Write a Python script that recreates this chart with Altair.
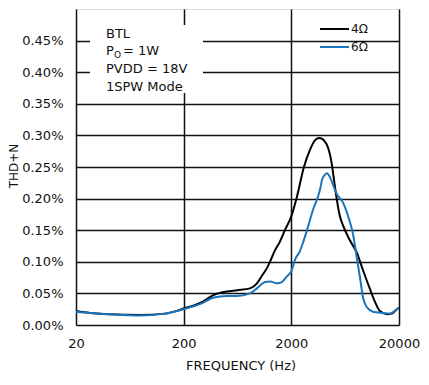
import altair as alt
import pandas as pd

# ---- data ----
series_names = ["4Ω", "6Ω"]
series_colors = ["#000000", "#1b75bc"]

freq_4 = [20, 27, 41, 79, 134, 200, 302, 374, 505, 626, 826, 959, 1066, 1187, 1266,
          1408, 1567, 1744, 2000, 2255, 2618, 2978, 3312, 3600, 3900, 4104, 4330, 4565,
          4770, 4960, 5190, 5652, 6026, 7000, 8130, 9250, 10740, 11940, 13300, 15450,
          17180, 19140, 20000]
thd_4 = [0.022, 0.019, 0.017, 0.016, 0.018, 0.026, 0.037, 0.047, 0.053, 0.055, 0.058,
         0.066, 0.078, 0.090, 0.100, 0.118, 0.132, 0.150, 0.172, 0.203, 0.250, 0.277,
         0.292, 0.296, 0.294, 0.290, 0.283, 0.270, 0.253, 0.232, 0.208, 0.172, 0.158,
         0.134, 0.114, 0.087, 0.057, 0.037, 0.022, 0.017, 0.018, 0.025, 0.027]

freq_6 = [20, 27, 41, 79, 134, 200, 302, 374, 505, 626, 826, 959, 1138, 1266, 1470,
          1636, 1820, 2000, 2160, 2404, 2564, 2853, 3175, 3532, 3690, 3849, 4104, 4285,
          4565, 4972, 5300, 6026, 6710, 7460, 8130, 8670, 9250, 10070, 11450, 14180,
          16460, 19140, 20000]
thd_6 = [0.021, 0.019, 0.017, 0.015, 0.018, 0.025, 0.035, 0.043, 0.046, 0.046, 0.050,
         0.058, 0.068, 0.069, 0.066, 0.068, 0.077, 0.085, 0.103, 0.117, 0.130, 0.155,
         0.182, 0.203, 0.214, 0.229, 0.238, 0.240, 0.234, 0.218, 0.207, 0.194, 0.173,
         0.145, 0.105, 0.076, 0.044, 0.028, 0.021, 0.019, 0.018, 0.025, 0.027]

x_ticks = [20, 200, 2000, 20000]
y_ticks = [0.0, 0.05, 0.10, 0.15, 0.20, 0.25, 0.30, 0.35, 0.40, 0.45]

annotation_lines = ["BTL", "PVDD = 18V", "1SPW Mode"]

FONT = "DejaVu Sans"

df = pd.concat([
    pd.DataFrame({"freq": freq_4, "thd": thd_4, "series": series_names[0], "order": 0}),
    pd.DataFrame({"freq": freq_6, "thd": thd_6, "series": series_names[1], "order": 1}),
], ignore_index=True)

W, H = 323, 316

xscale = alt.Scale(type="log", domain=[20, 20000], nice=False)
yscale = alt.Scale(domain=[0, 0.5], nice=False, zero=False)

lines = alt.Chart(df).mark_line(strokeWidth=2, interpolate="monotone", clip=True).encode(
    x=alt.X("freq:Q", scale=xscale,
            axis=alt.Axis(values=x_ticks, title=None, format="d", grid=True,
                          ticks=False, tickSize=0, domain=False, labelPadding=12,
                          labelFontSize=13, labelFont=FONT, labelColor="#111",
                          labelFlush=False, labelOverlap=False, labelBound=False,
                          gridColor="#111", gridWidth=1.5, gridOpacity=1)),
    y=alt.Y("thd:Q", scale=yscale,
            axis=alt.Axis(values=y_ticks, title=None, grid=True,
                          labelExpr="format(datum.value, '.2f') + '%'",
                          ticks=False, tickSize=0, domain=False, labelPadding=13,
                          labelFontSize=13, labelFont=FONT, labelColor="#111",
                          labelBaseline="middle",
                          gridColor="#111", gridWidth=1.5, gridOpacity=1)),
    color=alt.Color("series:N", scale=alt.Scale(domain=series_names, range=series_colors),
                    legend=None),
    detail="series:N",
    order="order:Q",
)

# white box behind annotation text
box = alt.Chart(pd.DataFrame({"k": [0]})).mark_rect(color="white").encode(
    x=alt.value(14), x2=alt.value(127), y=alt.value(16), y2=alt.value(84)
)

txt_df = pd.DataFrame({"t": annotation_lines, "yy": [29, 64, 82]})
ann = alt.Chart(txt_df).mark_text(align="left", baseline="alphabetic", fontSize=13,
                                  font=FONT, color="#111").encode(
    x=alt.value(30), y=alt.Y("yy:Q", scale=None), text="t:N"
)
p_main = alt.Chart(pd.DataFrame({"t": ["P"]})).mark_text(
    align="left", baseline="alphabetic", fontSize=13, font=FONT, color="#111"
).encode(x=alt.value(30), y=alt.value(46), text="t:N")
p_sub = alt.Chart(pd.DataFrame({"t": ["O"]})).mark_text(
    align="left", baseline="alphabetic", fontSize=9, font=FONT, color="#111"
).encode(x=alt.value(38), y=alt.value(49), text="t:N")
p_rest = alt.Chart(pd.DataFrame({"t": ["= 1W"]})).mark_text(
    align="left", baseline="alphabetic", fontSize=13, font=FONT, color="#111"
).encode(x=alt.value(47), y=alt.value(46), text="t:N")

# legend
leg_df = pd.DataFrame({"series": series_names, "ly": [20, 38]})
leg_lines = alt.Chart(leg_df).mark_rule(strokeWidth=2).encode(
    x=alt.value(244), x2=alt.value(273), y=alt.Y("ly:Q", scale=None),
    color=alt.Color("series:N", scale=alt.Scale(domain=series_names, range=series_colors),
                    legend=None),
)
leg_text = alt.Chart(leg_df).mark_text(align="left", baseline="middle", fontSize=12,
                                       font=FONT, color="#111").encode(
    x=alt.value(275), y=alt.Y("ly:Q", scale=None), text="series:N"
)

# axis titles
xtitle = alt.Chart(pd.DataFrame({"t": ["FREQUENCY (Hz)"]})).mark_text(
    align="center", baseline="alphabetic", fontSize=13, font=FONT, color="#111"
).encode(x=alt.value(165), y=alt.value(361), text="t:N")
ytitle = alt.Chart(pd.DataFrame({"t": ["THD+N"]})).mark_text(
    align="center", baseline="middle", fontSize=12, font=FONT, color="#111", angle=270
).encode(x=alt.value(-62), y=alt.value(157), text="t:N")

chart = alt.layer(
    lines, box, ann, p_main, p_sub, p_rest, leg_lines, leg_text, xtitle, ytitle
).properties(
    width=W, height=H,
    autosize=alt.AutoSizeParams(type="none"),
    padding={"left": 68, "top": 1, "right": 22, "bottom": 52},
).configure_view(
    stroke="#000", strokeWidth=3
).configure(background="white")

chart.save("out.html", embed_options={"renderer": "svg", "actions": False})
